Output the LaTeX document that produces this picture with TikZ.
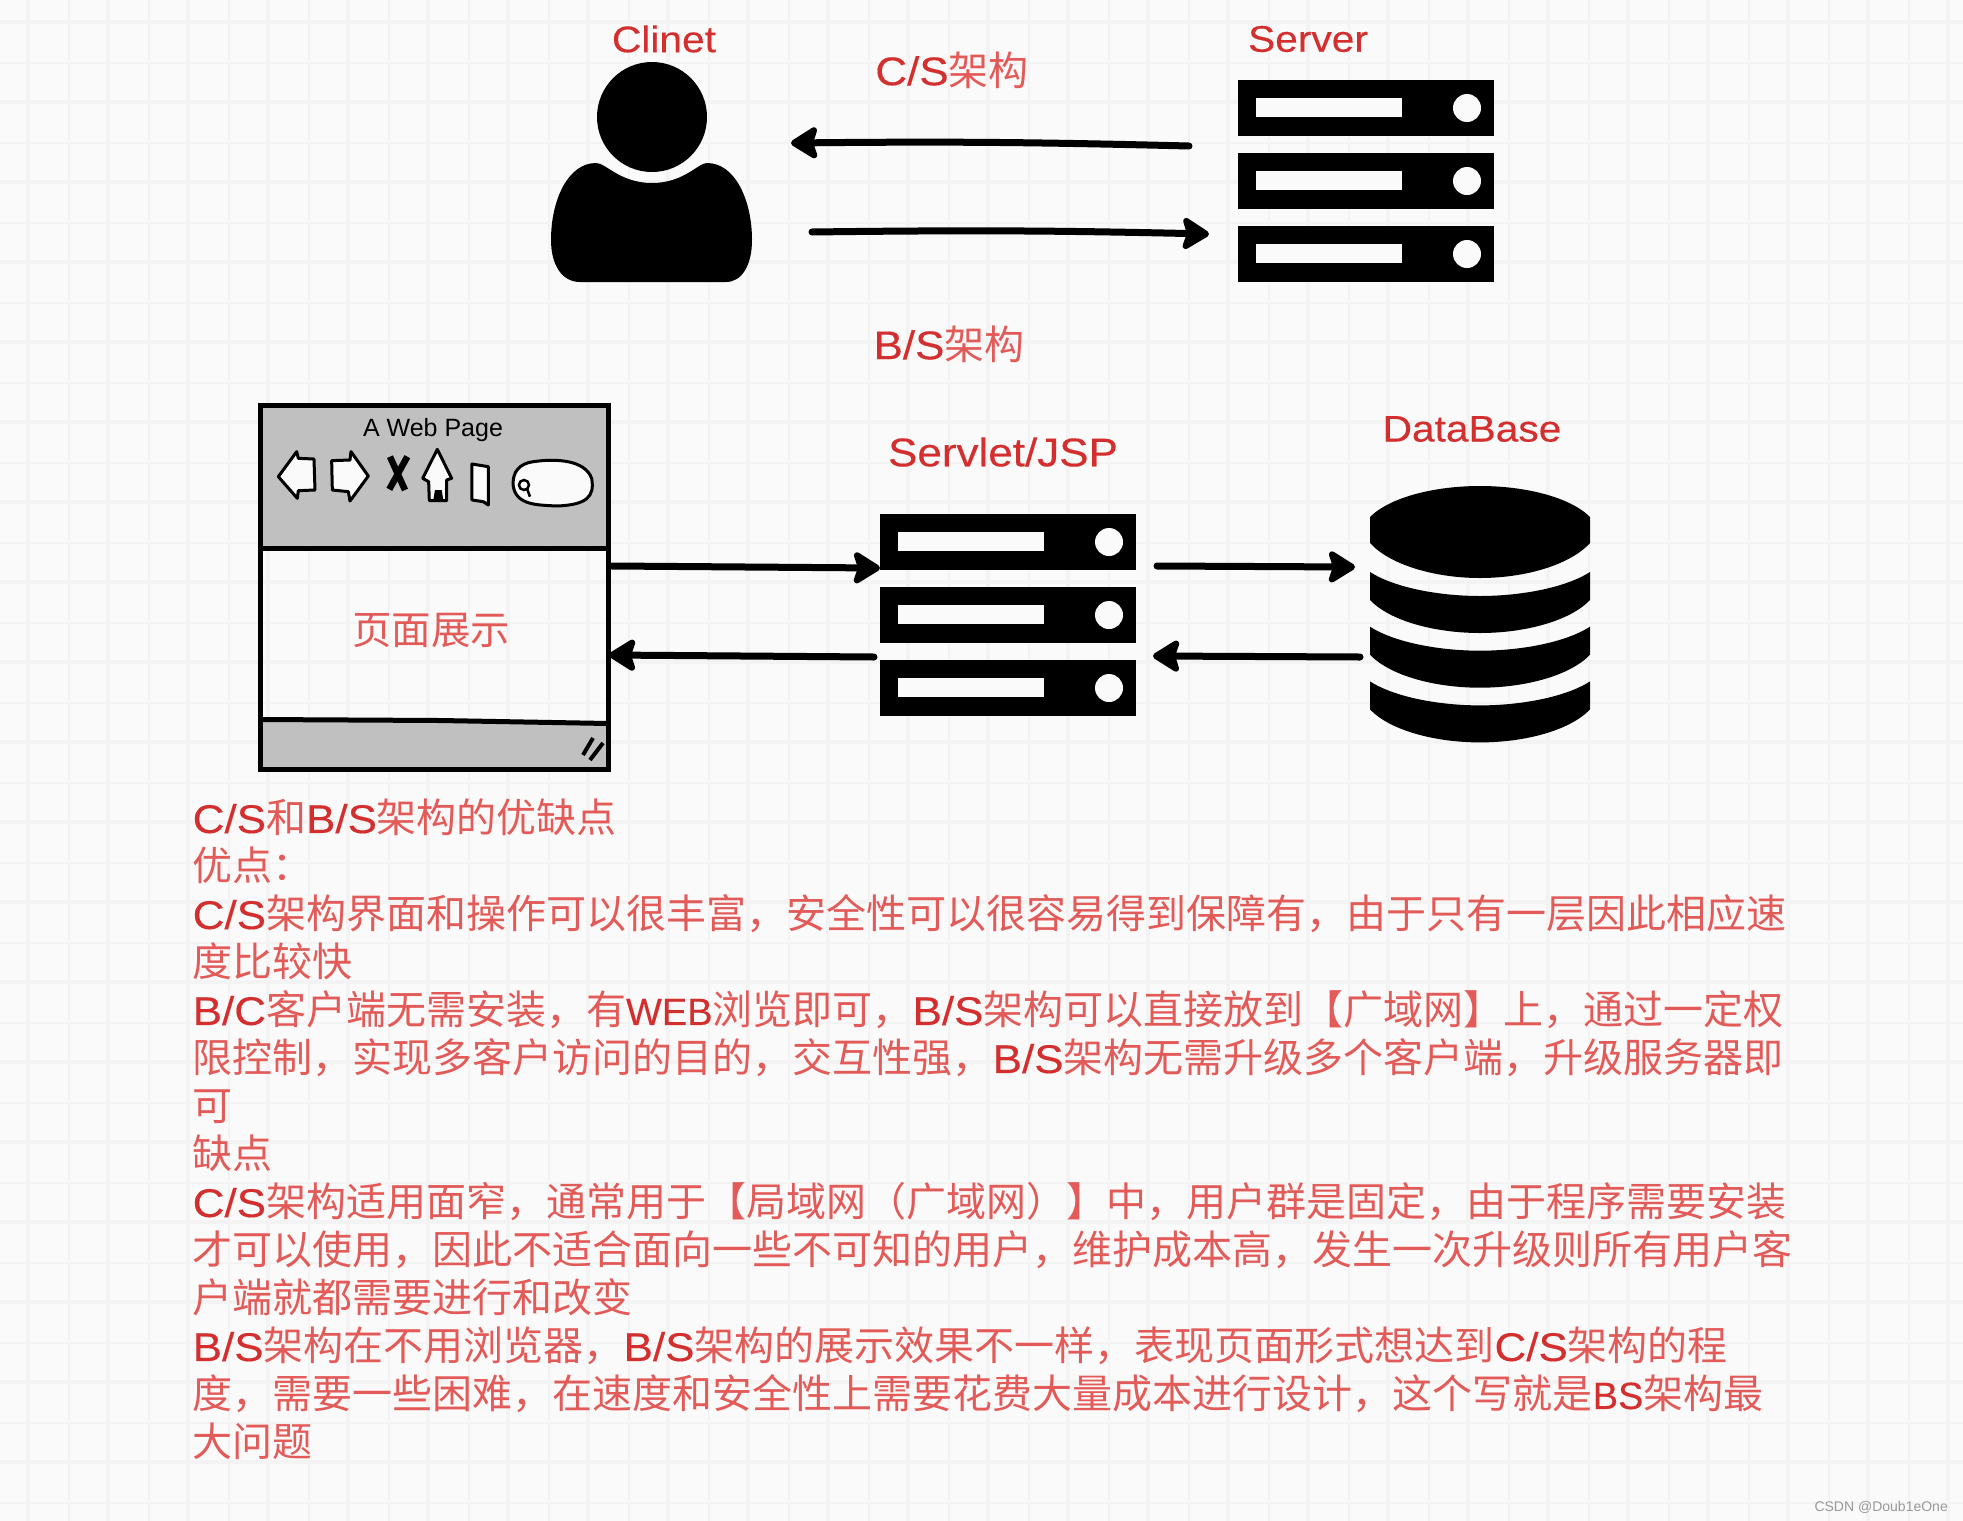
\documentclass[tikz,border=0pt]{standalone}
\usepackage{fontspec}
\usepackage{xcolor}
\usetikzlibrary{arrows.meta}
\setmainfont{Noto Sans CJK SC}
\newfontfamily\latfont[FakeStretch=1.1,FakeBold=0.3]{Liberation Sans}
\newfontfamily\latbold[FakeBold=0.3]{Liberation Sans}
\newfontfamily\latplain{Liberation Sans}
\definecolor{pageBack}{HTML}{FAFAFA}
\definecolor{gridLine}{HTML}{F3F3F3}
\definecolor{labelRed}{HTML}{D32F2F}
\definecolor{cjkRed}{HTML}{E25B58}
\definecolor{pageGray}{HTML}{C0C0C0}
\newcommand{\lat}[1]{{\latfont\color{labelRed}#1}}
\newcommand{\latn}[1]{{\latbold\fontsize{38pt}{48pt}\selectfont\color{labelRed}#1}}
\tikzset{
    iconbox/.style={inner sep=0pt, outer sep=0pt},
    label/.style={inner sep=0pt, text=cjkRed, font=\fontsize{37pt}{44pt}\selectfont},
    biglabel/.style={inner sep=0pt, text=cjkRed, font=\fontsize{40pt}{48pt}\selectfont},
    notes/.style={inner sep=0pt, text=cjkRed, align=left, font=\fontsize{40pt}{48pt}\selectfont},
    flow/.style={line width=7pt, line cap=round, -{Stealth[length=31pt,width=38pt,inset=6pt,round]}},
    sketch/.style={line width=3pt, line join=round, fill=pageBack},
    rack/.pic={
        \foreach \ry in {0,73,146} {
            \fill[black] (0,\ry) rectangle (256,\ry+55.5);
            \fill[pageBack] (18,\ry+18) rectangle (164,\ry+37);
            \fill[pageBack] (229,\ry+28) circle (14);
        }
    }
}
\begin{document}
\begin{tikzpicture}[x=1pt,y=-1pt]
    \useasboundingbox (0,0) rectangle (1963,1521);
    \fill[pageBack] (0,0) rectangle (1963,1521);
    % grid
    \foreach \gx in {28,108,...,1948} \fill[gridLine] (\gx-2,0) rectangle (\gx+2,1521);
    \foreach \gx in {69,149,...,1949} \fill[gridLine] (\gx-1,0) rectangle (\gx+1,1521);
    \foreach \gy in {22,102,...,1462} \fill[gridLine] (0,\gy-2) rectangle (1963,\gy+2);
    \foreach \gy in {63,143,...,1503} \fill[gridLine] (0,\gy-1) rectangle (1963,\gy+1);

    % top row
    \node[iconbox, minimum width=201pt, minimum height=220pt] (clinet) at (651.5,172) {};
    \node[iconbox, minimum width=256pt, minimum height=202pt] (server) at (1366,181) {};
    \fill[black] (652,117) ellipse (55 and 55);
    \fill[black] (596,163) .. controls (606,163) and (620,183) .. (652,183)
        .. controls (684,183) and (698,163) .. (707,163)
        .. controls (735,163) and (752,200) .. (752,240)
        .. controls (752,265) and (742,282) .. (726,282) -- (580,282)
        .. controls (562,282) and (551,265) .. (551,240)
        .. controls (551,200) and (568,163) .. (596,163) -- cycle;
    \pic at (1238,80) {rack};
    \node[label] (clinetLabel) at (664,39) {\lat{Clinet}};
    \node[label] (serverLabel) at (1308,39) {\lat{Server}};
    \node[biglabel] (csLabel) at (952,70) {\lat{C/S}架构};
    \node[biglabel] (bsLabel) at (949,344) {\lat{B/S}架构};
    \draw[flow] ([xshift=-49pt,yshift=35pt]server.west) to[bend right=1] ([xshift=39pt,yshift=29pt]clinet.east);
    \draw[flow] ([xshift=60pt,yshift=-60pt]clinet.east) to[bend left=1] ([xshift=-29pt,yshift=-53pt]server.west);

    % browser window
    \node[iconbox, minimum width=351pt, minimum height=366pt] (webpage) at (433.5,587) {};
    \fill[pageGray] (260,405) rectangle (608,548);
    \fill[pageGray] (260,720) -- (608,723) -- (608,769) -- (260,769) -- cycle;
    \draw[line width=5pt] (260,405.5) rectangle (608.5,769);
    \draw[line width=5pt] (260,548) -- (608.5,548);
    \draw[line width=5pt] (260,719.5) -- (440,720.5) -- (608.5,723.5);
    \draw[line width=4pt] (583,755) -- (593,738) (590,760) -- (603,743);
    \node[inner sep=0pt, font=\latplain\fontsize{25pt}{30pt}\selectfont] (webTitle) at (433,430) {A Web Page};
    \begin{scope}[shift={(270,440)},x=0.3333pt,y=-0.3333pt]
        \draw[sketch] (25,110) -- (80,35) -- (85,55) -- (132,57) -- (135,150) -- (85,152) -- (82,175) -- cycle;
        \draw[sketch] (185,62) -- (240,60) -- (243,35) -- (295,108) -- (240,183) -- (235,155) -- (187,150) -- cycle;
        \draw[line width=6.5pt] (360,50) -- (405,150) (412,50) -- (358,148);
        \draw[sketch] (502,28) -- (545,115) -- (530,120) -- (530,182) -- (478,182) -- (476,125) -- (458,115) -- cycle;
        \fill[black] (490,180) -- (495,150) -- (515,150) -- (520,180) -- cycle;
        \draw[sketch] (606,72) -- (655,80) -- (655,195) -- (640,185) -- (606,180) -- cycle;
        \draw[sketch] (790,65) .. controls (860,55) and (945,60) .. (965,115)
            .. controls (975,170) and (950,195) .. (860,198)
            .. controls (800,195) and (740,195) .. (730,140)
            .. controls (725,95) and (750,70) .. (790,65) -- cycle;
        \draw[line width=2.5pt] (762,135) circle (15) (772,148) -- (780,170);
    \end{scope}
    \node[inner sep=0pt, text=cjkRed, font=\fontsize{39.5pt}{48pt}\selectfont] (pageText) at (431,630) {页面展示};

    % middle and right
    \node[iconbox, minimum width=256pt, minimum height=201pt] (servlet) at (1008,614.5) {};
    \node[iconbox, minimum width=220pt, minimum height=256pt] (database) at (1480,614) {};
    \pic at (880,514) {rack};
    \fill[black] (1370,517) .. controls (1390,497) and (1435,486) .. (1480,486)
        .. controls (1525,486) and (1570,497) .. (1590,517) -- (1590,543)
        .. controls (1570,565) and (1525,578) .. (1480,578)
        .. controls (1435,578) and (1390,565) .. (1370,543) -- cycle;
    \foreach \dy in {0,54.7,109.4} {
        \fill[black] (1370,572+\dy) .. controls (1395,588+\dy) and (1440,596+\dy) .. (1480,596+\dy)
            .. controls (1520,596+\dy) and (1565,588+\dy) .. (1590,572+\dy) -- (1590,600+\dy)
            .. controls (1570,621+\dy) and (1525,633+\dy) .. (1480,633+\dy)
            .. controls (1435,633+\dy) and (1390,621+\dy) .. (1370,600+\dy) -- cycle;
    }
    \node[biglabel] (servletLabel) at (1003,452) {\lat{Servlet/JSP}};
    \node[label] (databaseLabel) at (1472,429) {\lat{DataBase}};
    \draw[flow] ([xshift=3pt,yshift=21pt]webpage.east) -- ([yshift=46.5pt]servlet.west);
    \draw[flow] ([xshift=-6pt,yshift=-42.5pt]servlet.west) -- ([yshift=-68pt]webpage.east);
    \draw[flow] ([xshift=21pt,yshift=48.5pt]servlet.east) -- ([xshift=-15pt,yshift=47pt]database.west);
    \draw[flow] ([xshift=-10pt,yshift=-43pt]database.west) -- ([xshift=17pt,yshift=-41.5pt]servlet.east);

    % text block
    \node[notes, anchor=north west] (prosCons) at (192.5,799) {%
        \lat{C/S}和\lat{B/S}架构的优缺点\\
        优点：\\
        \lat{C/S}架构界面和操作可以很丰富，安全性可以很容易得到保障有，由于只有一层因此相应速\\
        度比较快\\
        \lat{B/C}客户端无需安装，有\latn{WEB}浏览即可，\lat{B/S}架构可以直接放到【广域网】上，通过一定权\\
        限控制，实现多客户访问的目的，交互性强，\lat{B/S}架构无需升级多个客户端，升级服务器即\\
        可\\
        缺点\\
        \lat{C/S}架构适用面窄，通常用于【局域网（广域网）】中，用户群是固定，由于程序需要安装\\
        才可以使用，因此不适合面向一些不可知的用户，维护成本高，发生一次升级则所有用户客\\
        户端就都需要进行和改变\\
        \lat{B/S}架构在不用浏览器，\lat{B/S}架构的展示效果不一样，表现页面形式想达到\lat{C/S}架构的程\\
        度，需要一些困难，在速度和安全性上需要花费大量成本进行设计，这个写就是\latn{BS}架构最\\
        大问题};
    \node[inner sep=0pt, anchor=east, text=black!40, font=\latplain\fontsize{14pt}{17pt}\selectfont] (watermark) at (1948,1507) {CSDN @Doub1eOne};
\end{tikzpicture}
\end{document}
